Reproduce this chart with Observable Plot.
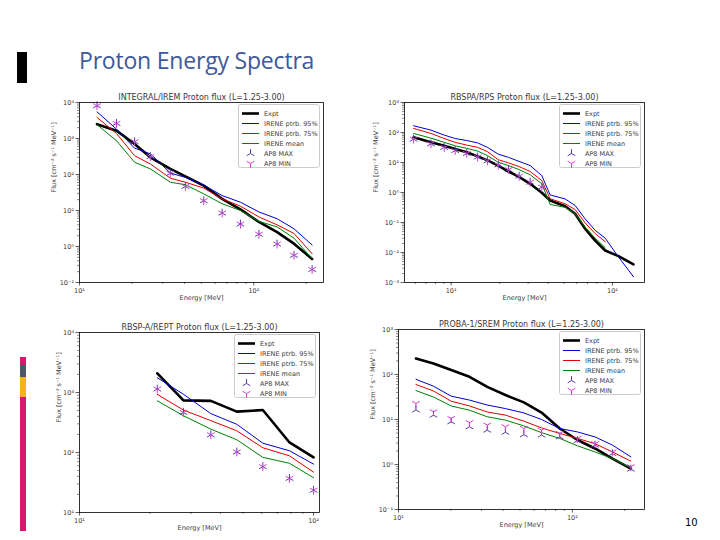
<!DOCTYPE html>
<html><head><meta charset="utf-8">
<script src="https://cdn.jsdelivr.net/npm/d3@7"></script>
<script src="https://cdn.jsdelivr.net/npm/@observablehq/plot@0.6"></script>
<style>
body{margin:0;background:#fff;}
#slide{position:relative;width:720px;height:540px;overflow:hidden;background:#fff;font-family:"DejaVu Sans",sans-serif;}
</style></head><body><div id="slide"></div>
<script>
// ---------- DATA ----------
const slideTitle = "Proton Energy Spectra";
const pageNumber = "10";
const seriesNames = ["Expt", "IRENE ptrb. 95%", "IRENE ptrb. 75%", "IRENE mean", "AP8 MAX", "AP8 MIN"];

// Panel 1: INTEGRAL/IREM
const integralEnergy = [12.6, 16.3, 20.7, 25.5, 33.2, 40.5, 51.6, 65.8, 83.8, 107, 136, 170, 216];
const integralExpt = [2500, 1650, 705, 300, 143, 89, 49, 21, 10.7, 4.8, 2.5, 1.2, 0.45];
const integralP95 = [5500, 1820, 540, 375, 110, 83, 51, 26, 17, 9.1, 5.9, 3.1, 1.1];
const integralP75 = [3850, 1380, 333, 196, 79, 61, 42, 21, 13.2, 6.6, 4.0, 2.3, 0.63];
const integralMean = [2420, 870, 219, 143, 61, 52, 29, 15.4, 10, 5.0, 3.5, 1.7, 0.46];
const integralAp8Max = [8100, 2620, 816, 314, 108, 46.5, 18.7, 8.5, 4.2, 2.2, 1.17, 0.57, 0.23];
const integralAp8Min = [8100, 2620, 816, 314, 108, 46.5, 18.7, 8.5, 4.2, 2.2, 1.17, 0.57, 0.23];

// Panel 2: RBSPA/RPS
const rpsEnergy = [5.85, 7.5, 9.06, 10.6, 12.5, 14.6, 16.8, 19.6, 22.7, 26.4, 30.9, 36.5, 41.1, 50.9, 58.7, 67.7, 78.1, 90.1, 109, 135];
const rpsExpt = [69, 47, 36, 28, 22, 16, 11.8, 7.9, 5.0, 3.3, 1.95, 0.98, 0.54, 0.35, 0.195, 0.062, 0.025, 0.0117, 0.0076, 0.0040];
const rpsP95 = [168, 120, 82, 63, 54, 45, 32, 19, 14.8, 10.9, 7.9, 3.65, 0.83, 0.61, 0.37, 0.133, 0.055, 0.030, 0.0071, 0.00155];
const rpsP75 = [137, 93, 63, 47, 38, 32, 23, 12.4, 9.7, 7.3, 5.0, 2.5, 0.62, 0.42, 0.27, 0.097, 0.043, 0.023];
const rpsMean = [93, 65, 47, 36, 29.5, 24, 17, 10.1, 7.9, 5.8, 3.9, 1.95, 0.40, 0.32, 0.195, 0.071, 0.030, 0.0145];
const rpsAp8Max = [60, 42, 32, 25, 20, 15.2, 11.4, 8.3, 5.8, 3.5, 2.2, 1.5];
const rpsAp8Min = [60, 42, 32, 25, 20, 15.2, 11.4, 8.3, 5.8, 3.5, 2.2, 1.5];

// Panel 3: RBSP-A/REPT
const reptEnergy = [21.5, 27.8, 36.4, 47, 60.7, 78.9, 100];
const reptExpt = [2090, 740, 725, 480, 510, 147, 83];
const reptP95 = [1760, 935, 445, 295, 143, 107, 64];
const reptP75 = [930, 510, 340, 230, 120, 88, 47];
const reptMean = [725, 410, 245, 163, 83, 66, 38];
const reptAp8Max = [1140, 465, 197, 102, 58, 37, 23.5];
const reptAp8Min = [1140, 465, 197, 102, 58, 37, 23.5];

// Panel 4: PROBA-1/SREM
const sremEnergy = [12.6, 15.9, 20.1, 25.6, 32.4, 41.2, 52.6, 66.5, 84.6, 107, 135, 170, 217];
const sremExpt = [226, 176, 126, 89, 53, 35, 24, 14.3, 6.3, 3.5, 2.27, 1.35, 0.81];
const sremP95 = [78, 55, 33, 27, 21, 17.5, 14, 10, 6.3, 5.3, 4.1, 2.7, 1.48];
const sremP75 = [60, 43, 25.5, 20, 14.7, 12.5, 9.2, 6.5, 4.9, 3.8, 2.9, 1.9, 1.19];
const sremMean = [44, 31.5, 20, 16.1, 11.5, 9.7, 7.2, 5.1, 3.8, 2.6, 1.9, 1.35, 0.84];
const sremAp8Max = [16.3, 12.5, 8.9, 6.9, 5.8, 5.2, 4.6, 4.5, 4.1, 3.4, 2.7, 1.75, 0.79];
const sremAp8Min = [22.7, 14.8, 10.5, 8.5, 7.5, 6.9, 6.3, 5.8, 4.9, 3.8, 2.9, 1.9, 0.89];

// ---------- HELPERS ----------
const colors = {expt: "#000000", p95: "#0000cc", p75: "#e00000", mean: "#008000", max: "#5a3aa8", min: "#d23ed2"};
const textColor = "#3a3a3a";
const sup = {"-": "⁻", "0": "⁰", "1": "¹", "2": "²", "3": "³", "4": "⁴", "5": "⁵", "6": "⁶", "7": "⁷", "8": "⁸", "9": "⁹"};
const fmtPow = d => "10" + String(Math.round(Math.log10(d))).split("").map(c => sup[c]).join("");
function majors([a, b]) {
  const out = [];
  for (let e = Math.ceil(Math.log10(a) - 1e-9); e <= Math.floor(Math.log10(b) + 1e-9); e++) out.push(10 ** e);
  return out;
}
function minors([a, b]) {
  const out = [];
  for (let e = Math.floor(Math.log10(a)); e <= Math.ceil(Math.log10(b)); e++)
    for (let k = 2; k <= 9; k++) { const v = k * 10 ** e; if (v >= a * 0.999 && v <= b * 1.001) out.push(v); }
  return out;
}
const triDown = {draw(ctx, size) { const r = Math.sqrt(size) * 0.62;
  ctx.moveTo(0, 0); ctx.lineTo(0, r); ctx.moveTo(0, 0); ctx.lineTo(-r * 0.866, -r * 0.5);
  ctx.moveTo(0, 0); ctx.lineTo(r * 0.866, -r * 0.5); }};
const triUp = {draw(ctx, size) { const r = Math.sqrt(size) * 0.62;
  ctx.moveTo(0, 0); ctx.lineTo(0, -r); ctx.moveTo(0, 0); ctx.lineTo(-r * 0.866, r * 0.5);
  ctx.moveTo(0, 0); ctx.lineTo(r * 0.866, r * 0.5); }};
const pts = (xs, ys) => ys.map((y, i) => ({x: xs[i], y}));

const slide = document.getElementById("slide");

function makePanel(p) {
  const mL = 50, mR = 12, mT = 20, mB = 34;
  const W = p.R - p.L + mL + mR, H = p.B - p.T + mT + mB;
  const svg = Plot.plot({
    width: W, height: H, marginLeft: mL, marginRight: mR, marginTop: mT, marginBottom: mB,
    x: {type: "log", domain: p.xDomain},
    y: {type: "log", domain: p.yDomain},
    style: {position: "absolute", left: (p.L - mL) + "px", top: (p.T - mT) + "px",
      fontFamily: "DejaVu Sans, sans-serif", fontSize: "6.5px", color: textColor, background: "transparent", overflow: "visible"},
    marks: [
      Plot.axisX(minors(p.xDomain), {tickSize: 2, tickFormat: () => "", label: null, strokeWidth: 0.6}),
      Plot.axisY(minors(p.yDomain), {tickSize: 2, tickFormat: () => "", label: null, strokeWidth: 0.6}),
      Plot.axisX(majors(p.xDomain), {tickSize: 3.5, tickFormat: fmtPow, label: null, tickPadding: 2, fontSize: 6.5, strokeWidth: 0.8, fill: textColor}),
      Plot.axisY(majors(p.yDomain), {tickSize: 3.5, tickFormat: fmtPow, label: null, tickPadding: 2, fontSize: 6.5, strokeWidth: 0.8, fill: textColor}),
      Plot.line(pts(p.e, p.expt), {x: "x", y: "y", stroke: colors.expt, strokeWidth: 2.6}),
      Plot.line(pts(p.e, p.p95), {x: "x", y: "y", stroke: colors.p95, strokeWidth: 1}),
      Plot.line(pts(p.e, p.p75), {x: "x", y: "y", stroke: colors.p75, strokeWidth: 1}),
      Plot.line(pts(p.e, p.mean), {x: "x", y: "y", stroke: colors.mean, strokeWidth: 1}),
      Plot.dot(pts(p.e, p.ap8max), {x: "x", y: "y", symbol: triUp, r: 4, fill: "none", stroke: colors.max, strokeWidth: 1}),
      Plot.dot(pts(p.e, p.ap8min), {x: "x", y: "y", symbol: triDown, r: 4, fill: "none", stroke: colors.min, strokeWidth: 1}),
      Plot.frame({stroke: "#000", strokeWidth: 0.8}),
      Plot.text([p.title], {frameAnchor: "top", dy: -3, lineAnchor: "bottom", fontSize: 8, fill: textColor}),
      Plot.text(["Energy [MeV]"], {frameAnchor: "bottom", dy: 17, fontSize: 6.5, fill: textColor}),
      Plot.text(["Flux [cm⁻² s⁻¹ MeV⁻¹]"], {frameAnchor: "left", dx: p.ylabDx, rotate: -90, fontSize: 6.5, fill: textColor})
    ]
  });
  slide.appendChild(svg);

  // legend box
  const w = 82, h = 64;
  const lg = d3.create("svg").attr("width", w).attr("height", h)
    .style("position", "absolute").style("left", (p.R - 3 - w) + "px").style("top", (p.T + 2) + "px");
  lg.append("rect").attr("x", 0.5).attr("y", 0.5).attr("width", w - 1).attr("height", h - 1).attr("rx", 2)
    .attr("fill", "rgba(255,255,255,0.85)").attr("stroke", "#cccccc");
  const sw = [
    {type: "line", c: colors.expt, wd: 2.6}, {type: "line", c: colors.p95, wd: 1},
    {type: "line", c: colors.p75, wd: 1}, {type: "line", c: colors.mean, wd: 1},
    {type: "sym", c: colors.max, s: triUp}, {type: "sym", c: colors.min, s: triDown}];
  seriesNames.forEach((name, i) => {
    const y = 9.5 + i * 10;
    const s = sw[i];
    if (s.type === "line") lg.append("line").attr("x1", 4).attr("x2", 21).attr("y1", y).attr("y2", y).attr("stroke", s.c).attr("stroke-width", s.wd);
    else lg.append("path").attr("d", d3.symbol(s.s, 50)()).attr("transform", `translate(12.5,${y})`).attr("fill", "none").attr("stroke", s.c).attr("stroke-width", 1);
    lg.append("text").attr("x", 26).attr("y", y).attr("dy", "0.35em").attr("font-size", 6.5)
      .attr("font-family", "DejaVu Sans, sans-serif").attr("fill", textColor).text(name);
  });
  slide.appendChild(lg.node());
}

// ---------- DECORATION ----------
function box(l, t, w, h, c) {
  const d = document.createElement("div");
  Object.assign(d.style, {position: "absolute", left: l + "px", top: t + "px", width: w + "px", height: h + "px", background: c});
  slide.appendChild(d);
}
box(17, 52, 10, 31, "#000");
box(20, 357, 6, 8, "#d6186f");
box(20, 365, 6, 12, "#4d5866");
box(20, 377, 6, 20, "#f5b317");
box(20, 397, 6, 134, "#d6186f");

const title = document.createElement("div");
title.textContent = slideTitle;
Object.assign(title.style, {position: "absolute", left: "79px", top: "49px", fontFamily: "'Open Sans', sans-serif", fontSize: "23px",
  lineHeight: "22px", color: "#40599a", letterSpacing: "-0.2px", whiteSpace: "nowrap"});
slide.appendChild(title);

const pg = document.createElement("div");
pg.textContent = pageNumber;
Object.assign(pg.style, {position: "absolute", left: "685px", top: "517px", fontFamily: "'DejaVu Sans', sans-serif", fontSize: "10px", color: "#000"});
slide.appendChild(pg);

// ---------- PANELS ----------
makePanel({title: "INTEGRAL/IREM Proton flux (L=1.25-3.00)", L: 79, R: 323, T: 102, B: 282, xDomain: [10, 251], yDomain: [0.1, 1e4], ylabDx: -26,
  e: integralEnergy, expt: integralExpt, p95: integralP95, p75: integralP75, mean: integralMean, ap8max: integralAp8Max, ap8min: integralAp8Min});
makePanel({title: "RBSPA/RPS Proton flux (L=1.25-3.00)", L: 404, R: 644, T: 102, B: 282, xDomain: [5.14, 158], yDomain: [1e-3, 1e3], ylabDx: -29,
  e: rpsEnergy, expt: rpsExpt, p95: rpsP95, p75: rpsP75, mean: rpsMean, ap8max: rpsAp8Max, ap8min: rpsAp8Min});
makePanel({title: "RBSP-A/REPT Proton flux (L=1.25-3.00)", L: 79, R: 319, T: 332, B: 512, xDomain: [10, 106], yDomain: [10, 1e4], ylabDx: -21,
  e: reptEnergy, expt: reptExpt, p95: reptP95, p75: reptP75, mean: reptMean, ap8max: reptAp8Max, ap8min: reptAp8Min});
makePanel({title: "PROBA-1/SREM Proton flux (L=1.25-3.00)", L: 398, R: 644, T: 329, B: 509, xDomain: [10, 260], yDomain: [0.1, 1e3], ylabDx: -26,
  e: sremEnergy, expt: sremExpt, p95: sremP95, p75: sremP75, mean: sremMean, ap8max: sremAp8Max, ap8min: sremAp8Min});
</script></body></html>
